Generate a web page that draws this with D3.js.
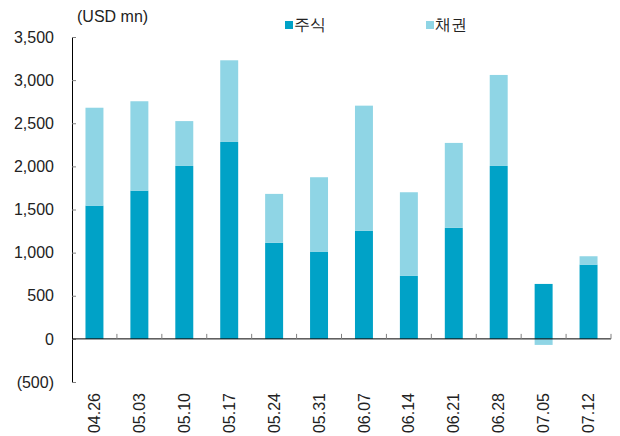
<!DOCTYPE html>
<html><head><meta charset="utf-8">
<script src="https://cdn.jsdelivr.net/npm/d3@7"></script>
<style>body{margin:0;background:#fff}svg{display:block}text{font-family:"Liberation Sans",Arial,sans-serif}</style>
</head><body>
<svg id="c" width="620" height="436"></svg>
<script>
const categories = ["04.26","05.03","05.10","05.17","05.24","05.31","06.07","06.14","06.21","06.28","07.05","07.12"];
const stock = [1545,1719,2005,2283,1113,1012,1252,730,1287,2005,637,861];
const bond  = [1135,1036,520,947,568,862,1452,970,985,1055,-70,97];
const seriesNames = ["주식","채권"];
const yTicks = [-500,0,500,1000,1500,2000,2500,3000,3500];
const colors = ["#00a2c7","#8fd5e5"];

const svg = d3.select("#c");
const L = 72, R = 611, T = 37, B = 382;
const x = d3.scaleBand().domain(categories).range([L, R]).paddingInner(0.6).paddingOuter(0.3);
const y = d3.scaleLinear().domain([-500, 3500]).range([B, T]);

const table = categories.map((c, i) => ({cat: c, s0: stock[i], s1: bond[i]}));
const stacked = d3.stack().keys(["s0","s1"]).offset(d3.stackOffsetDiverging)(table);

svg.append("g").selectAll("g").data(stacked).join("g")
  .attr("fill", (d, i) => colors[i])
  .selectAll("rect").data(d => d).join("rect")
  .attr("x", d => x(d.data.cat))
  .attr("width", x.bandwidth())
  .attr("y", d => y(Math.max(d[0], d[1])))
  .attr("height", d => Math.abs(y(d[0]) - y(d[1])));

// y axis
const fmt = v => v < 0 ? "(" + d3.format(",")(-v) + ")" : d3.format(",")(v);
const ya = svg.append("g").attr("transform", `translate(${L},0)`)
  .call(d3.axisLeft(y).tickValues(yTicks).tickFormat(fmt).tickSizeInner(-4).tickSizeOuter(0).tickPadding(18));
ya.select(".domain").attr("stroke", "#000");
ya.selectAll(".tick line").attr("stroke", "#808080");
ya.selectAll(".tick text").attr("font-size", 16).attr("fill", "#222");

// zero line
svg.append("line").attr("x1", L).attr("x2", R).attr("y1", y(0)).attr("y2", y(0)).attr("stroke", "#000");
// boundary ticks
svg.append("g").selectAll("line").data(categories).join("line")
  .attr("x1", (d) => x(d) - x.step()*x.paddingInner()/2 + x.step())
  .attr("x2", (d) => x(d) - x.step()*x.paddingInner()/2 + x.step())
  .attr("y1", y(0)).attr("y2", y(0) - 5).attr("stroke", "#808080");

// x labels
const xa = svg.append("g").attr("transform", `translate(0,${B})`)
  .call(d3.axisBottom(x).tickSize(0).tickPadding(0));
xa.select(".domain").remove();
xa.selectAll(".tick text").attr("font-size", 16).attr("fill", "#222")
  .attr("transform", "rotate(-90)").attr("text-anchor", "end")
  .attr("x", -11).attr("y", 0).attr("dy", "0.35em");

// unit
svg.append("text").attr("x", 77).attr("y", 22).attr("font-size", 16).attr("fill", "#222").text("(USD mn)");

// legend
const lg = svg.append("g");
const lx = [285, 426];
seriesNames.forEach((n, i) => {
  lg.append("rect").attr("x", lx[i]).attr("y", 21).attr("width", 8).attr("height", 8).attr("fill", colors[i]);
  lg.append("text").attr("x", lx[i] + 9).attr("y", 30).attr("font-size", 16)
    .attr("font-family", "'Noto Sans CJK KR',sans-serif").attr("fill", "#222").text(n);
});
</script>
</body></html>
